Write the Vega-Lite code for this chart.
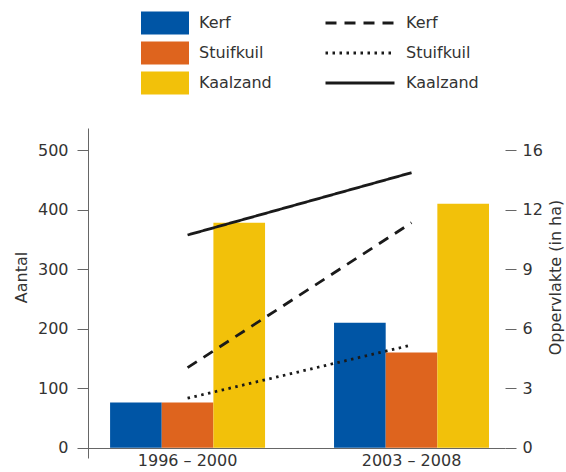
{
  "$schema": "https://vega.github.io/schema/vega-lite/v6.json",
  "autosize": "none",
  "width": 417,
  "height": 330,
  "padding": {"left": 88, "top": 128, "right": 61, "bottom": 14},
  "background": "white",
  "config": {
    "font": "DejaVu Sans",
    "view": {"stroke": null},
    "axis": {
      "labelFont": "DejaVu Sans",
      "labelFontSize": 16,
      "labelColor": "#333333",
      "titleFont": "DejaVu Sans",
      "titleFontSize": 16,
      "titleFontWeight": "normal",
      "titleColor": "#333333",
      "domainColor": "#666666",
      "tickColor": "#666666",
      "grid": false
    },
    "legend": {
      "labelFont": "DejaVu Sans",
      "labelFontSize": 16,
      "labelColor": "#333333"
    }
  },
  "datasets": {
    "bars": [
      {"period": "1996 – 2000", "type": "Kerf", "count": 76},
      {"period": "1996 – 2000", "type": "Stuifkuil", "count": 76},
      {"period": "1996 – 2000", "type": "Kaalzand", "count": 378},
      {"period": "2003 – 2008", "type": "Kerf", "count": 210},
      {"period": "2003 – 2008", "type": "Stuifkuil", "count": 160},
      {"period": "2003 – 2008", "type": "Kaalzand", "count": 410}
    ],
    "lines": [
      {"period": "1996 – 2000", "lijn": "Kerf", "area": 4.04},
      {"period": "2003 – 2008", "lijn": "Kerf", "area": 11.34},
      {"period": "1996 – 2000", "lijn": "Stuifkuil", "area": 2.5},
      {"period": "2003 – 2008", "lijn": "Stuifkuil", "area": 5.18},
      {"period": "1996 – 2000", "lijn": "Kaalzand", "area": 10.72},
      {"period": "2003 – 2008", "lijn": "Kaalzand", "area": 13.86}
    ]
  },
  "encoding": {
    "x": {
      "field": "period",
      "type": "nominal",
      "scale": {"paddingInner": 0.308, "paddingOuter": 0.085, "align": 0.58},
      "axis": {
        "title": null,
        "labelAngle": 0,
        "ticks": false,
        "domain": true,
        "offset": -10,
        "labelPadding": 4
      }
    }
  },
  "layer": [
    {
      "data": {"name": "bars"},
      "mark": {"type": "bar"},
      "encoding": {
        "xOffset": {
          "field": "type",
          "type": "nominal",
          "sort": ["Kerf", "Stuifkuil", "Kaalzand"],
          "scale": {"paddingInner": 0, "paddingOuter": 0}
        },
        "y": {
          "field": "count",
          "type": "quantitative",
          "scale": {"domain": [-17, 537], "nice": false, "zero": false},
          "axis": {
            "title": "Aantal",
            "titleY": 149,
            "values": [0, 100, 200, 300, 400, 500],
            "tickSize": 11,
            "labelPadding": 9,
            "titlePadding": 8
          }
        },
        "color": {
          "field": "type",
          "type": "nominal",
          "sort": ["Kerf", "Stuifkuil", "Kaalzand"],
          "scale": {
            "domain": ["Kerf", "Stuifkuil", "Kaalzand"],
            "range": ["#0055a5", "#de641e", "#f2c10a"]
          },
          "legend": {
            "title": null,
            "orient": "none",
            "legendX": 53,
            "legendY": -120,
            "symbolType": "M-1,-0.48H1V0.48H-1Z",
            "symbolSize": 2304,
            "symbolStrokeWidth": 0,
            "symbolOpacity": 1,
            "labelOffset": 10,
            "clipHeight": 30,
            "rowPadding": 0
          }
        }
      }
    },
    {
      "data": {"name": "lines"},
      "mark": {"type": "line", "color": "#1a1a1a", "strokeWidth": 2.8},
      "encoding": {
        "y": {
          "field": "area",
          "type": "quantitative",
          "scale": {"domain": [-0.51, 16.11], "nice": false, "zero": false},
          "axis": {
            "orient": "right",
            "title": "Oppervlakte (in ha)",
            "titleAngle": 270,
            "titleX": 50,
            "titleY": 149,
            "titleBaseline": "middle",
            "values": [0, 3, 6, 9, 12, 15],
            "labelExpr": "datum.value == 15 ? '16' : datum.label",
            "domain": false,
            "tickSize": 11,
            "labelPadding": 6
          }
        },
        "strokeDash": {
          "field": "lijn",
          "type": "nominal",
          "sort": ["Kerf", "Stuifkuil", "Kaalzand"],
          "scale": {
            "range": [[11, 8], [2.5, 4.5], [1, 0]]
          },
          "legend": {
            "title": null,
            "orient": "none",
            "legendX": 236,
            "legendY": -120,
            "symbolType": "stroke",
            "symbolSize": 4761,
            "symbolStrokeColor": "#1a1a1a",
            "symbolStrokeWidth": 2.8,
            "labelOffset": 10,
            "clipHeight": 30,
            "rowPadding": 0
          }
        }
      }
    }
  ],
  "resolve": {"scale": {"y": "independent"}}
}
